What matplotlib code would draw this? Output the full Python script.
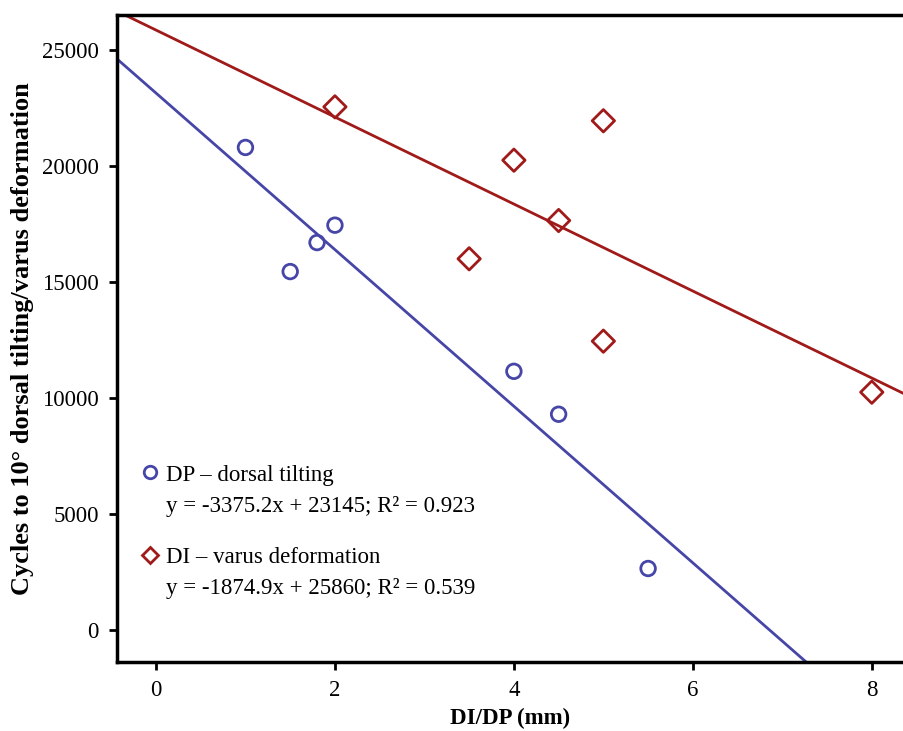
import numpy as np
import matplotlib.pyplot as plt
from matplotlib.lines import Line2D

plt.rcParams['font.family'] = ['Liberation Serif', 'DejaVu Serif']

# data
dp_x = [1.0, 1.5, 1.8, 2.0, 4.0, 4.5, 5.5]
dp_y = [20800, 15450, 16700, 17450, 11150, 9300, 2650]
di_x = [2.0, 3.5, 4.0, 4.5, 5.0, 5.0, 8.0]
di_y = [22550, 16000, 20250, 17650, 21950, 12450, 10250]

# fitted lines as printed in the legend
dp_fit = (-3375.2, 23145, 0.923)
di_fit = (-1874.9, 25860, 0.539)

x_ticks = [0, 2, 4, 6, 8]
y_ticks = [0, 5000, 10000, 15000, 20000, 25000]

BLUE = '#4646a8'
RED = '#a01a1a'

fig = plt.figure(figsize=(9.04, 7.31), dpi=100)
ax = fig.add_axes([0.1294, 0.0944, 0.8706, 0.8851])

xlim = (-0.436, 8.36)
ylim = (-1380, 26510)

xs = np.array(xlim)
ax.plot(xs, dp_fit[0] * xs + dp_fit[1], color=BLUE, lw=2)
ax.plot(xs, di_fit[0] * xs + di_fit[1], color=RED, lw=2)

ax.scatter(dp_x, dp_y, s=110, marker='o', facecolors='none', edgecolors=BLUE, linewidths=2, zorder=3)
ax.scatter(di_x, di_y, s=130, marker='D', facecolors='none', edgecolors=RED, linewidths=2, zorder=3)

ax.set_xlim(*xlim)
ax.set_ylim(*ylim)
ax.set_xticks(x_ticks)
ax.set_yticks(y_ticks)
ax.tick_params(direction='out', length=6, width=2, labelsize=16.5, pad=7)

for side in ['left', 'bottom', 'top']:
    ax.spines[side].set_linewidth(2.5)
ax.spines['right'].set_visible(False)

ax.set_xlabel('DI/DP (mm)', fontsize=16.5, fontweight='bold', labelpad=5)
ax.set_ylabel('Cycles to 10° dorsal tilting/varus deformation', fontsize=19,
              fontweight='bold', labelpad=6)

blank = Line2D([], [], linestyle='none', marker=None)


def fit_label(fit):
    return f'y = {fit[0]}x + {fit[1]}; R² = {fit[2]}'


h_dp = Line2D([], [], linestyle='none', marker='o', markersize=9, markerfacecolor='none',
              markeredgecolor=BLUE, markeredgewidth=2)
h_di = Line2D([], [], linestyle='none', marker='D', markersize=8, markerfacecolor='none',
              markeredgecolor=RED, markeredgewidth=2)

leg_kw = dict(frameon=False, fontsize=16.5, handlelength=0.8, handletextpad=0.3,
              labelspacing=0.45, borderpad=0, loc='upper left')
leg1 = ax.legend([h_dp, blank], ['DP – dorsal tilting', fit_label(dp_fit)],
                 bbox_to_anchor=(0.016, 0.323), **leg_kw)
ax.add_artist(leg1)
ax.legend([h_di, blank], ['DI – varus deformation', fit_label(di_fit)],
          bbox_to_anchor=(0.016, 0.196), **leg_kw)

fig.savefig('out.png', dpi=100, facecolor='white')
